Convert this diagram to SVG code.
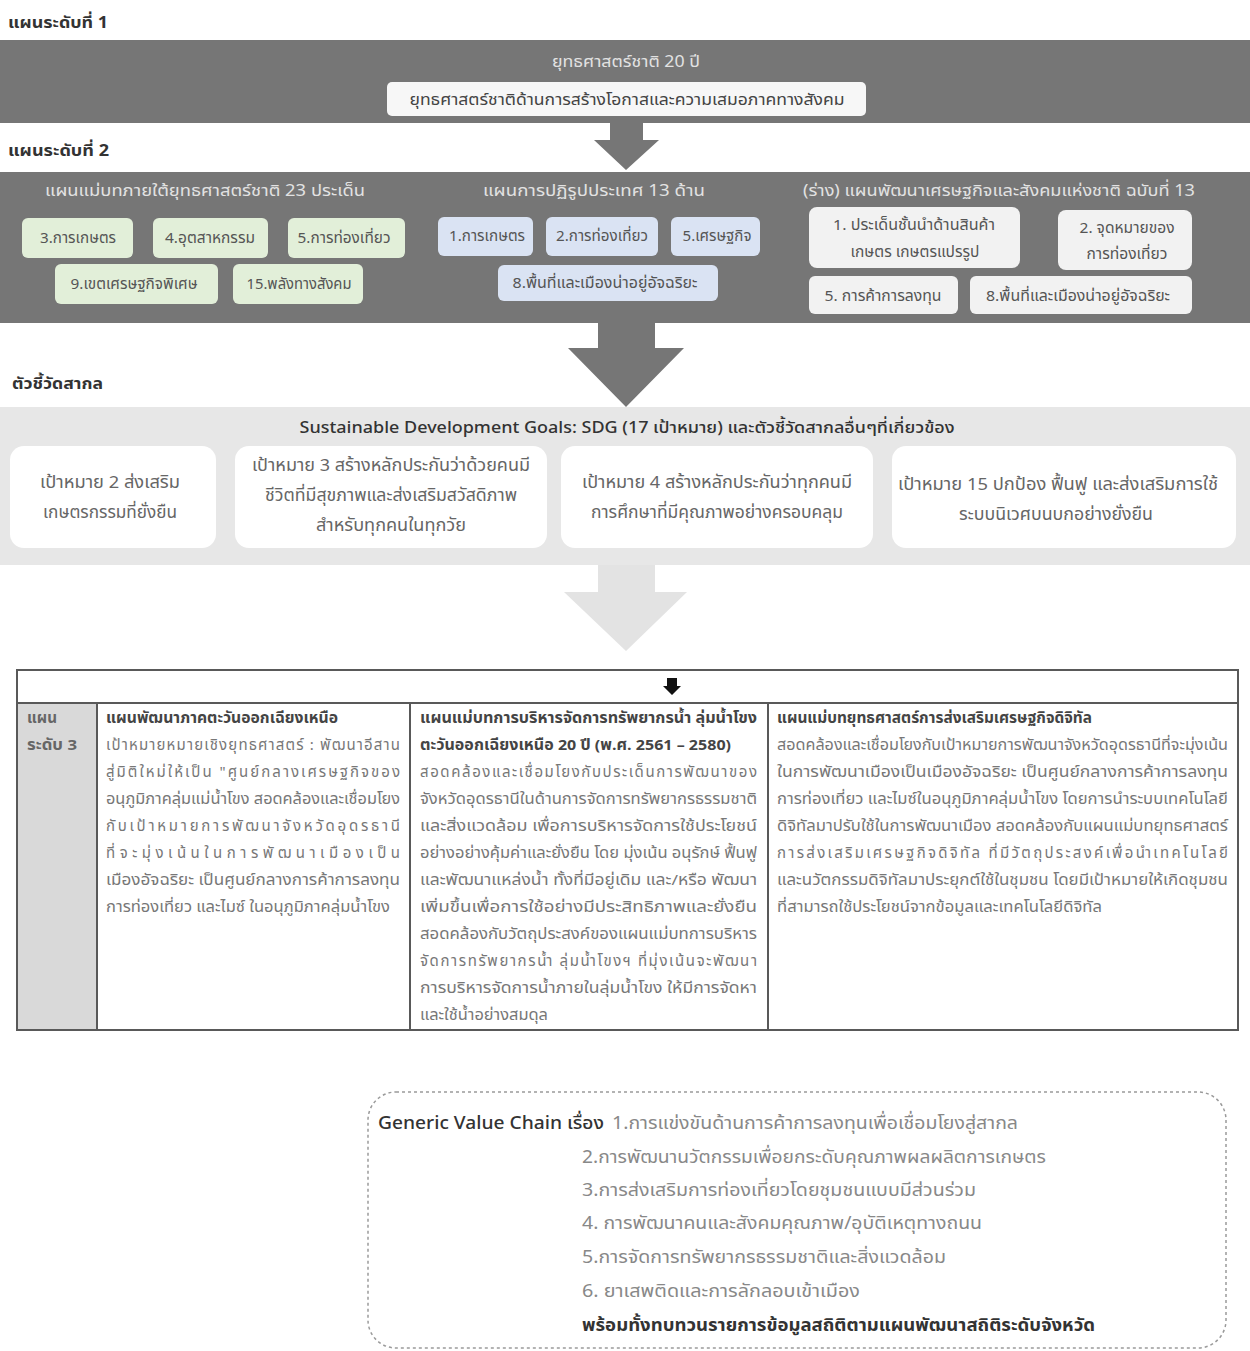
<svg xmlns="http://www.w3.org/2000/svg" width="1250" height="1351" viewBox="0 0 1250 1351">
<style>
text{font-family:"Noto Sans Thai","Leelawadee UI",Tahoma,"DejaVu Sans","Noto Sans",sans-serif;}
.lbl{font-size:16px;font-weight:bold;fill:#333;}
.band{fill:#767676;}
.hd{font-size:16.5px;fill:#e2e2e2;text-anchor:middle;}
.bx{font-size:15px;fill:#555;text-anchor:middle;}
.g{fill:#e2efd9;}
.b{fill:#dae3f3;}
.w{fill:#f2f2f2;}
.sdg{fill:#fff;}
.st{font-size:17px;fill:#666;text-anchor:middle;}
.tb{font-size:15px;fill:#777;}
.tbh{font-size:15px;fill:#444;font-weight:bold;}
.gv{font-size:18px;fill:#888;}
.gvb{font-size:18px;fill:#333;font-weight:bold;}
.cell{fill:none;stroke:#595959;stroke-width:2;}
</style>

<g id="level1">
<text class="lbl" x="8" y="28" textLength="100" lengthAdjust="spacingAndGlyphs">แผนระดับที่ 1</text>
<rect class="band" x="0" y="40" width="1250" height="83"/>
<text class="hd" x="626" y="67" textLength="148" lengthAdjust="spacingAndGlyphs">ยุทธศาสตร์ชาติ 20 ปี</text>
<rect x="387" y="82" width="479" height="34" rx="5" fill="#f7f7f7"/>
<text x="627" y="105" style="font-size:16px;fill:#444;text-anchor:middle" textLength="435" lengthAdjust="spacingAndGlyphs">ยุทธศาสตร์ชาติด้านการสร้างโอกาสและความเสมอภาคทางสังคม</text>
</g>

<g id="connectors">
<polygon points="610,123 643,123 643,140 659,140 626,170 594,140 610,140" fill="#767676"/>
<polygon points="598,323 655,323 655,348 684,348 626,407 568,348 598,348" fill="#767676"/>
<polygon points="598,565 655,565 655,592 687,592 626,651 564,592 598,592" fill="#e3e3e3"/>
<polygon points="667,678 677,678 677,686 681,686 672,695 663,686 667,686" fill="#111"/>
</g>

<g id="level2">
<text class="lbl" x="8" y="156" textLength="101" lengthAdjust="spacingAndGlyphs">แผนระดับที่ 2</text>
<rect class="band" x="0" y="172" width="1250" height="151"/>
<text class="hd" x="205" y="196" textLength="320" lengthAdjust="spacingAndGlyphs">แผนแม่บทภายใต้ยุทธศาสตร์ชาติ 23 ประเด็น</text>
<text class="hd" x="594" y="196" textLength="222" lengthAdjust="spacingAndGlyphs">แผนการปฏิรูปประเทศ 13 ด้าน</text>
<text class="hd" x="999" y="196" textLength="392" lengthAdjust="spacingAndGlyphs">(ร่าง) แผนพัฒนาเศรษฐกิจและสังคมแห่งชาติ ฉบับที่ 13</text>
</g>

<g id="g-agri"><rect class="g" x="22" y="218" width="111" height="40" rx="6"/><text class="bx" x="78" y="243" textLength="76" lengthAdjust="spacingAndGlyphs">3.การเกษตร</text></g>
<g id="g-ind"><rect class="g" x="153" y="218" width="115" height="40" rx="6"/><text class="bx" x="210" y="243" textLength="90" lengthAdjust="spacingAndGlyphs">4.อุตสาหกรรม</text></g>
<g id="g-tour"><rect class="g" x="288" y="218" width="117" height="40" rx="6"/><text class="bx" x="344" y="243" textLength="93" lengthAdjust="spacingAndGlyphs">5.การท่องเที่ยว</text></g>
<g id="g-sez"><rect class="g" x="55" y="264" width="163" height="40" rx="6"/><text class="bx" x="134" y="289" textLength="127" lengthAdjust="spacingAndGlyphs">9.เขตเศรษฐกิจพิเศษ</text></g>
<g id="g-social"><rect class="g" x="233" y="264" width="130" height="40" rx="6"/><text class="bx" x="299" y="289" textLength="105" lengthAdjust="spacingAndGlyphs">15.พลังทางสังคม</text></g>

<g id="r-agri"><rect class="b" x="438" y="217" width="95" height="39" rx="6"/><text class="bx" x="487" y="241" textLength="76" lengthAdjust="spacingAndGlyphs">1.การเกษตร</text></g>
<g id="r-tour"><rect class="b" x="546" y="217" width="112" height="39" rx="6"/><text class="bx" x="602" y="241" textLength="92" lengthAdjust="spacingAndGlyphs">2.การท่องเที่ยว</text></g>
<g id="r-econ"><rect class="b" x="671" y="217" width="89" height="39" rx="6"/><text class="bx" x="717" y="241" textLength="69" lengthAdjust="spacingAndGlyphs">5.เศรษฐกิจ</text></g>
<g id="r-city"><rect class="b" x="498" y="265" width="220" height="36" rx="6"/><text class="bx" x="605" y="288" textLength="185" lengthAdjust="spacingAndGlyphs">8.พื้นที่และเมืองน่าอยู่อัจฉริยะ</text></g>

<g id="n-agri"><rect class="w" x="809" y="207" width="211" height="61" rx="8"/><text class="bx" x="914" y="230" textLength="162" lengthAdjust="spacingAndGlyphs">1. ประเด็นชั้นนำด้านสินค้า</text><text class="bx" x="915" y="257" textLength="129" lengthAdjust="spacingAndGlyphs">เกษตร เกษตรแปรรูป</text></g>
<g id="n-tour"><rect class="w" x="1058" y="210" width="134" height="60" rx="8"/><text class="bx" x="1127" y="233" textLength="95" lengthAdjust="spacingAndGlyphs">2. จุดหมายของ</text><text class="bx" x="1127" y="259" textLength="81" lengthAdjust="spacingAndGlyphs">การท่องเที่ยว</text></g>
<g id="n-trade"><rect class="w" x="809" y="276" width="149" height="38" rx="6"/><text class="bx" x="883" y="301" textLength="117" lengthAdjust="spacingAndGlyphs">5. การค้าการลงทุน</text></g>
<g id="n-city"><rect class="w" x="970" y="276" width="222" height="38" rx="6"/><text class="bx" x="1078" y="301" textLength="184" lengthAdjust="spacingAndGlyphs">8.พื้นที่และเมืองน่าอยู่อัจฉริยะ</text></g>

<g id="global">
<text class="lbl" x="12" y="389" textLength="91" lengthAdjust="spacingAndGlyphs">ตัวชี้วัดสากล</text>
<rect x="0" y="407" width="1250" height="158" fill="#e7e7e7"/>
<text x="627" y="433" style="font-size:16.5px;fill:#333;text-anchor:middle;font-weight:500" textLength="655" lengthAdjust="spacingAndGlyphs">Sustainable Development Goals: SDG (17 เป้าหมาย) และตัวชี้วัดสากลอื่นๆที่เกี่ยวข้อง</text>
</g>
<g id="sdg2"><rect class="sdg" x="10" y="446" width="206" height="102" rx="14"/><text class="st" x="110" y="488" textLength="140" lengthAdjust="spacingAndGlyphs">เป้าหมาย 2 ส่งเสริม</text><text class="st" x="110" y="518" textLength="134" lengthAdjust="spacingAndGlyphs">เกษตรกรรมที่ยั่งยืน</text></g>
<g id="sdg3"><rect class="sdg" x="235" y="446" width="312" height="102" rx="14"/><text class="st" x="391" y="471" textLength="278" lengthAdjust="spacingAndGlyphs">เป้าหมาย 3 สร้างหลักประกันว่าด้วยคนมี</text><text class="st" x="391" y="501" textLength="252" lengthAdjust="spacingAndGlyphs">ชีวิตที่มีสุขภาพและส่งเสริมสวัสดิภาพ</text><text class="st" x="391" y="531" textLength="150" lengthAdjust="spacingAndGlyphs">สำหรับทุกคนในทุกวัย</text></g>
<g id="sdg4"><rect class="sdg" x="561" y="446" width="312" height="102" rx="14"/><text class="st" x="717" y="488" textLength="270" lengthAdjust="spacingAndGlyphs">เป้าหมาย 4 สร้างหลักประกันว่าทุกคนมี</text><text class="st" x="717" y="518" textLength="252" lengthAdjust="spacingAndGlyphs">การศึกษาที่มีคุณภาพอย่างครอบคลุม</text></g>
<g id="sdg15"><rect class="sdg" x="892" y="446" width="344" height="102" rx="14"/><text class="st" x="1058" y="490" textLength="320" lengthAdjust="spacingAndGlyphs">เป้าหมาย  15 ปกป้อง ฟื้นฟู และส่งเสริมการใช้</text><text class="st" x="1056" y="520" textLength="194" lengthAdjust="spacingAndGlyphs">ระบบนิเวศบนบกอย่างยั่งยืน</text></g>

<g id="level3">
<rect x="17" y="703" width="80" height="327" fill="#d9d9d9"/>
<rect class="cell" x="17" y="670" width="1221" height="360"/>
<line class="cell" x1="17" y1="703" x2="1238" y2="703"/>
<line class="cell" x1="97" y1="703" x2="97" y2="1030"/>
<line class="cell" x1="410" y1="703" x2="410" y2="1030"/>
<line class="cell" x1="768" y1="703" x2="768" y2="1030"/>
<text class="tbh" x="27" y="723" style="fill:#666" textLength="30" lengthAdjust="spacingAndGlyphs">แผน</text>
<text class="tbh" x="27" y="750" style="fill:#666" textLength="50" lengthAdjust="spacingAndGlyphs">ระดับ 3</text>
</g>

<g id="col1">
<text class="tbh" x="106" y="723" textLength="232" lengthAdjust="spacingAndGlyphs">แผนพัฒนาภาคตะวันออกเฉียงเหนือ</text>
<text class="tb" x="106" y="750" textLength="294" lengthAdjust="spacing">เป้าหมายหมายเชิงยุทธศาสตร์ : พัฒนาอีสาน</text>
<text class="tb" x="106" y="777" textLength="294" lengthAdjust="spacing">สู่มิติใหม่ให้เป็น "ศูนย์กลางเศรษฐกิจของ</text>
<text class="tb" x="106" y="804" textLength="294" lengthAdjust="spacingAndGlyphs">อนุภูมิภาคลุ่มแม่น้ำโขง สอดคล้องและเชื่อมโยง</text>
<text class="tb" x="106" y="831" textLength="294" lengthAdjust="spacing">กับเป้าหมายการพัฒนาจังหวัดอุดรธานี</text>
<text class="tb" x="106" y="858" textLength="294" lengthAdjust="spacing">ที่จะมุ่งเน้นในการพัฒนาเมืองเป็น</text>
<text class="tb" x="106" y="885" textLength="294" lengthAdjust="spacingAndGlyphs">เมืองอัจฉริยะ เป็นศูนย์กลางการค้าการลงทุน</text>
<text class="tb" x="106" y="912" textLength="284" lengthAdjust="spacingAndGlyphs">การท่องเที่ยว และไมซ์ ในอนุภูมิภาคลุ่มน้ำโขง</text>
</g>

<g id="col2">
<text class="tbh" x="420" y="723" textLength="337" lengthAdjust="spacingAndGlyphs">แผนแม่บทการบริหารจัดการทรัพยากรน้ำ ลุ่มน้ำโขง</text>
<text class="tbh" x="420" y="750" textLength="311" lengthAdjust="spacingAndGlyphs">ตะวันออกเฉียงเหนือ 20 ปี (พ.ศ. 2561 – 2580)</text>
<text class="tb" x="420" y="777" textLength="337" lengthAdjust="spacing">สอดคล้องและเชื่อมโยงกับประเด็นการพัฒนาของ</text>
<text class="tb" x="420" y="804" textLength="337" lengthAdjust="spacingAndGlyphs">จังหวัดอุดรธานีในด้านการจัดการทรัพยากรธรรมชาติ</text>
<text class="tb" x="420" y="831" textLength="337" lengthAdjust="spacingAndGlyphs">และสิ่งแวดล้อม เพื่อการบริหารจัดการใช้ประโยชน์</text>
<text class="tb" x="420" y="858" textLength="337" lengthAdjust="spacingAndGlyphs">อย่างอย่างคุ้มค่าและยั่งยืน โดย มุ่งเน้น อนุรักษ์ ฟื้นฟู</text>
<text class="tb" x="420" y="885" textLength="337" lengthAdjust="spacingAndGlyphs">และพัฒนาแหล่งน้ำ ทั้งที่มีอยู่เดิม และ/หรือ พัฒนา</text>
<text class="tb" x="420" y="912" textLength="337" lengthAdjust="spacingAndGlyphs">เพิ่มขึ้นเพื่อการใช้อย่างมีประสิทธิภาพและยั่งยืน</text>
<text class="tb" x="420" y="939" textLength="337" lengthAdjust="spacingAndGlyphs">สอดคล้องกับวัตถุประสงค์ของแผนแม่บทการบริหาร</text>
<text class="tb" x="420" y="966" textLength="337" lengthAdjust="spacing">จัดการทรัพยากรน้ำ ลุ่มน้ำโขงฯ ที่มุ่งเน้นจะพัฒนา</text>
<text class="tb" x="420" y="993" textLength="337" lengthAdjust="spacingAndGlyphs">การบริหารจัดการน้ำภายในลุ่มน้ำโขง ให้มีการจัดหา</text>
<text class="tb" x="420" y="1020" textLength="128" lengthAdjust="spacingAndGlyphs">และใช้น้ำอย่างสมดุล</text>
</g>

<g id="col3">
<text class="tbh" x="777" y="723" textLength="315" lengthAdjust="spacingAndGlyphs">แผนแม่บทยุทธศาสตร์การส่งเสริมเศรษฐกิจดิจิทัล</text>
<text class="tb" x="777" y="750" textLength="451" lengthAdjust="spacingAndGlyphs">สอดคล้องและเชื่อมโยงกับเป้าหมายการพัฒนาจังหวัดอุดรธานีที่จะมุ่งเน้น</text>
<text class="tb" x="777" y="777" textLength="451" lengthAdjust="spacingAndGlyphs">ในการพัฒนาเมืองเป็นเมืองอัจฉริยะ เป็นศูนย์กลางการค้าการลงทุน</text>
<text class="tb" x="777" y="804" textLength="451" lengthAdjust="spacingAndGlyphs">การท่องเที่ยว และไมซ์ในอนุภูมิภาคลุ่มน้ำโขง โดยการนำระบบเทคโนโลยี</text>
<text class="tb" x="777" y="831" textLength="451" lengthAdjust="spacingAndGlyphs">ดิจิทัลมาปรับใช้ในการพัฒนาเมือง สอดคล้องกับแผนแม่บทยุทธศาสตร์</text>
<text class="tb" x="777" y="858" textLength="451" lengthAdjust="spacing">การส่งเสริมเศรษฐกิจดิจิทัล ที่มีวัตถุประสงค์เพื่อนำเทคโนโลยี</text>
<text class="tb" x="777" y="885" textLength="451" lengthAdjust="spacingAndGlyphs">และนวัตกรรมดิจิทัลมาประยุกต์ใช้ในชุมชน โดยมีเป้าหมายให้เกิดชุมชน</text>
<text class="tb" x="777" y="912" textLength="325" lengthAdjust="spacingAndGlyphs">ที่สามารถใช้ประโยชน์จากข้อมูลและเทคโนโลยีดิจิทัล</text>
</g>

<g id="value-chain">
<rect x="368" y="1092" width="858" height="256" rx="28" fill="none" stroke="#9a9a9a" stroke-width="1.5" stroke-dasharray="3,3"/>
<text class="gvb" x="378" y="1129" style="font-weight:500" textLength="226" lengthAdjust="spacingAndGlyphs">Generic Value Chain เรื่อง</text>
<text class="gv" x="612" y="1129" textLength="406" lengthAdjust="spacingAndGlyphs">1.การแข่งขันด้านการค้าการลงทุนเพื่อเชื่อมโยงสู่สากล</text>
<text class="gv" x="582" y="1163" textLength="464" lengthAdjust="spacingAndGlyphs">2.การพัฒนานวัตกรรมเพื่อยกระดับคุณภาพผลผลิตการเกษตร</text>
<text class="gv" x="582" y="1196" textLength="394" lengthAdjust="spacingAndGlyphs">3.การส่งเสริมการท่องเที่ยวโดยชุมชนแบบมีส่วนร่วม</text>
<text class="gv" x="582" y="1229" textLength="400" lengthAdjust="spacingAndGlyphs">4. การพัฒนาคนและสังคมคุณภาพ/อุบัติเหตุทางถนน</text>
<text class="gv" x="582" y="1263" textLength="364" lengthAdjust="spacingAndGlyphs">5.การจัดการทรัพยากรธรรมชาติและสิ่งแวดล้อม</text>
<text class="gv" x="582" y="1297" textLength="278" lengthAdjust="spacingAndGlyphs">6. ยาเสพติดและการลักลอบเข้าเมือง</text>
<text class="gvb" x="582" y="1331" textLength="513" lengthAdjust="spacingAndGlyphs">พร้อมทั้งทบทวนรายการข้อมูลสถิติตามแผนพัฒนาสถิติระดับจังหวัด</text>
</g>
</svg>
